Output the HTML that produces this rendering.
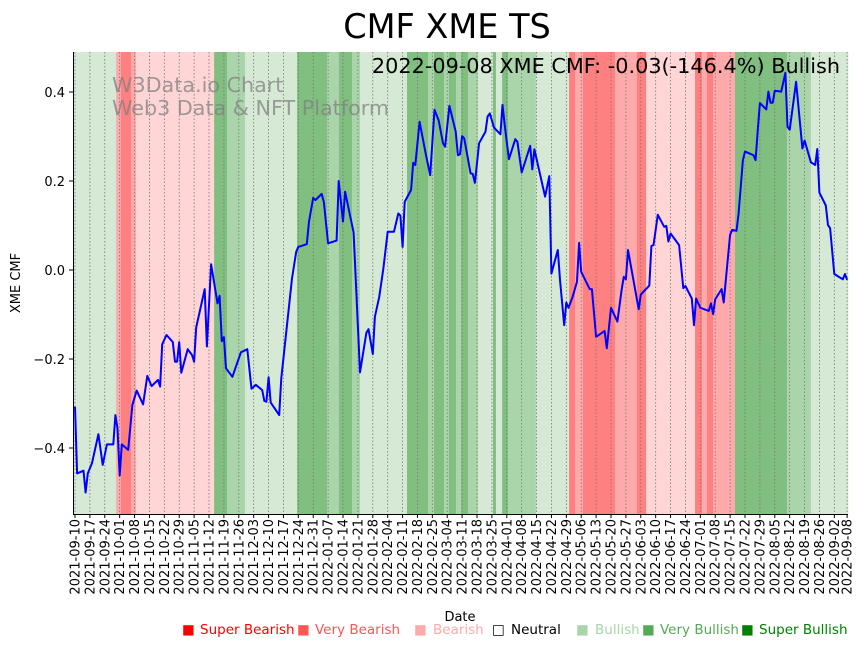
<!DOCTYPE html>
<html><head><meta charset="utf-8"><style>
html,body{margin:0;padding:0;background:#fff;}
svg{display:block;font-family:"DejaVu Sans","Liberation Sans",sans-serif;}
</style></head><body>
<svg id="chart" width="867" height="646" viewBox="0 0 867 646" xmlns="http://www.w3.org/2000/svg">
<g id="bands"></g>
<g id="grid"></g>
<text x="112" y="92" font-size="20.7" fill="#808080" fill-opacity="0.75">W3Data.io Chart</text>
<text x="112" y="115" font-size="20.7" fill="#808080" fill-opacity="0.75">Web3 Data &amp; NFT Platform</text>
<path id="line" fill="none" stroke="#0000ff" stroke-width="2" stroke-linejoin="round"/>
<line x1="73.5" y1="52" x2="73.5" y2="514.5" stroke="#000" stroke-width="1"/>
<line x1="73" y1="514.5" x2="848" y2="514.5" stroke="#000" stroke-width="1"/>
<g id="yticks"></g>
<g id="xticks"></g>
<text x="447" y="38" font-size="33.5" text-anchor="middle">CMF XME TS</text>
<text x="840" y="73" font-size="20.8" text-anchor="end">2022-09-08 XME CMF: -0.03(-146.4%) Bullish</text>
<text transform="translate(20,283) rotate(-90)" font-size="13" text-anchor="middle">XME CMF</text>
<text x="460" y="621" font-size="13" text-anchor="middle">Date</text>
<g font-size="13.5">
<g fill="#ff0000"><text x="182" y="634">■</text><text x="200" y="634">Super Bearish</text></g>
<g fill="#ff5555"><text x="297" y="634">■</text><text x="315" y="634">Very Bearish</text></g>
<g fill="#ffaaaa"><text x="414" y="634">■</text><text x="433" y="634">Bearish</text></g>
<g fill="#000"><text x="492" y="634">□</text><text x="511" y="634">Neutral</text></g>
<g fill="#aad4aa"><text x="576" y="634">■</text><text x="595" y="634">Bullish</text></g>
<g fill="#55aa55"><text x="642" y="634">■</text><text x="660" y="634">Very Bullish</text></g>
<g fill="#008000"><text x="741" y="634">■</text><text x="759" y="634">Super Bullish</text></g>
</g>
</svg>
<script>
// day offsets from 2021-09-10
const days = [0,1,4,5,6,8,11,13,15,18,19,20,21,22,25,27,29,32,34,36,39,40,41,43,46,47,48,49,50,53,55,56,57,61,62,64,67,68,69,70,71,74,78,81,83,85,88,89,90,91,92,96,97,102,104,105,109,110,112,113,116,117,119,123,124,126,127,131,134,137,138,140,141,143,145,147,150,152,153,154,155,158,159,160,162,165,167,169,171,173,174,176,179,180,181,182,183,186,187,188,190,193,194,195,197,200,201,202,204,207,208,210,214,215,216,221,223,224,227,228,230,231,232,234,236,237,238,242,243,245,249,250,252,255,257,258,259,260,265,266,270,271,272,274,277,278,279,280,284,286,287,290,291,292,294,298,299,300,301,304,305,308,309,311,312,314,315,319,320,321,322,325,326,327,328,329,332,334,335,336,339,342,343,346,348,349,350,353,354,355,357,361,362,363];
const cmfValues = [-0.307,-0.457,-0.451,-0.500,-0.457,-0.434,-0.369,-0.438,-0.392,-0.392,-0.326,-0.356,-0.462,-0.392,-0.404,-0.303,-0.271,-0.302,-0.238,-0.261,-0.247,-0.262,-0.167,-0.146,-0.162,-0.206,-0.206,-0.162,-0.231,-0.178,-0.191,-0.206,-0.129,-0.043,-0.172,0.013,-0.075,-0.058,-0.160,-0.151,-0.221,-0.240,-0.185,-0.178,-0.267,-0.258,-0.270,-0.294,-0.296,-0.241,-0.298,-0.326,-0.243,-0.019,0.041,0.052,0.058,0.109,0.162,0.157,0.171,0.152,0.060,0.066,0.200,0.109,0.176,0.084,-0.230,-0.141,-0.133,-0.189,-0.105,-0.061,0.004,0.086,0.086,0.127,0.122,0.052,0.153,0.180,0.241,0.236,0.333,0.258,0.213,0.360,0.336,0.285,0.277,0.369,0.311,0.258,0.260,0.301,0.296,0.217,0.216,0.196,0.285,0.311,0.345,0.352,0.320,0.305,0.371,0.326,0.249,0.294,0.288,0.219,0.279,0.226,0.271,0.165,0.211,-0.008,0.045,-0.022,-0.124,-0.073,-0.085,-0.060,-0.026,0.061,-0.004,-0.043,-0.043,-0.150,-0.137,-0.176,-0.085,-0.116,-0.045,-0.015,-0.021,0.045,-0.088,-0.055,-0.035,0.054,0.056,0.124,0.097,0.099,0.064,0.082,0.056,-0.041,-0.036,-0.064,-0.124,-0.064,-0.085,-0.092,-0.075,-0.099,-0.066,-0.043,-0.073,0.079,0.090,0.088,0.127,0.247,0.266,0.258,0.247,0.315,0.375,0.361,0.401,0.376,0.376,0.403,0.401,0.443,0.322,0.315,0.423,0.273,0.291,0.242,0.236,0.272,0.174,0.145,0.101,0.094,-0.009,-0.021,-0.009,-0.022];
// sentiment bands: start day and category (-3..3)
const bandStarts = [-1,19.3,21.6,26.3,28.7,65.4,71.5,79.9,104.4,118.5,124.1,130.2,134,156.1,166,168.8,173.5,175.8,179.1,181.5,184.8,189.5,196.5,197.9,200.8,203.6,216.7,232.3,235.1,238.8,241.2,253.9,264.2,268.5,291.5,294.8,297.1,300,310.3,334.7,346];
const bandCats = [1,-2,-3,-2,-1,3,2,1,3,2,3,2,1,3,2,3,2,3,2,3,2,1,3,1,3,2,1,-3,-2,-3,-3,-2,-3,-1,-3,-2,-3,-2,3,2,1];
const bandEnd = 363.6;
const yTicks = [0.4,0.2,0.0,-0.2,-0.4];
const yTickLabels = ["0.4","0.2","0.0","\u22120.2","\u22120.4"];
const lastLabelDay = 363;

const NS="http://www.w3.org/2000/svg";
function xs(d){return 75+d*2.127;}
function ys(v){return 270-v*445;}
const X0=73,X1=848,Y0=52,Y1=514;
const catColor={"-3":"#ff8080","-2":"#ffaaaa","-1":"#ffd5d5","1":"#d5e9d5","2":"#aad4aa","3":"#80bf80"};
const bandsG=document.getElementById('bands');
for(let i=0;i<bandStarts.length;i++){
  const s=Math.max(X0,xs(bandStarts[i]));
  const e=Math.min(X1,xs(i+1<bandStarts.length?bandStarts[i+1]:bandEnd));
  const r=document.createElementNS(NS,'rect');
  r.setAttribute('x',s);r.setAttribute('y',Y0);r.setAttribute('width',Math.max(0,e-s)+0.3);r.setAttribute('height',Y1-Y0);
  r.setAttribute('fill',catColor[bandCats[i]]);
  
  
  bandsG.appendChild(r);
}
const gridG=document.getElementById('grid'),xt=document.getElementById('xticks');
const base=new Date(Date.UTC(2021,8,10));
function lab(d){const t=new Date(base.getTime()+d*86400000);return t.toISOString().slice(0,10);}
const tickDays=[];for(let d=0;d<=357;d+=7)tickDays.push(d);tickDays.push(lastLabelDay);
tickDays.forEach(d=>{
  const x=xs(d);
  const g=document.createElementNS(NS,'line');
  g.setAttribute('x1',x);g.setAttribute('x2',x);g.setAttribute('y1',Y0);g.setAttribute('y2',Y1);
  g.setAttribute('stroke','#777');g.setAttribute('stroke-width','0.8');g.setAttribute('stroke-dasharray','1.5,2');
  
  
  gridG.appendChild(g);
  const tk=document.createElementNS(NS,'line');
  tk.setAttribute('x1',x);tk.setAttribute('x2',x);tk.setAttribute('y1',514);tk.setAttribute('y2',518);tk.setAttribute('stroke','#000');
  
  
  xt.appendChild(tk);
  const t=document.createElementNS(NS,'text');
  t.setAttribute('transform','translate('+(x+4.5)+',519) rotate(-90)');
  t.setAttribute('text-anchor','end');t.setAttribute('font-size','13');
  t.textContent=lab(d);
  
  
  xt.appendChild(t);
});
const yt=document.getElementById('yticks');
yTicks.forEach((v,i)=>{
  const y=ys(v);
  const tk=document.createElementNS(NS,'line');
  tk.setAttribute('x1',69);tk.setAttribute('x2',73);tk.setAttribute('y1',y);tk.setAttribute('y2',y);tk.setAttribute('stroke','#000');
  
  
  yt.appendChild(tk);
  const t=document.createElementNS(NS,'text');
  t.setAttribute('x',65);t.setAttribute('y',y+5);t.setAttribute('text-anchor','end');t.setAttribute('font-size','13');
  t.textContent=yTickLabels[i];
  
  
  yt.appendChild(t);
});
let d='';
for(let i=0;i<days.length;i++){d+=(i?'L':'M')+xs(days[i]).toFixed(1)+','+ys(cmfValues[i]).toFixed(1);}
document.getElementById('line').setAttribute('d',d);
</script>
</body></html>
